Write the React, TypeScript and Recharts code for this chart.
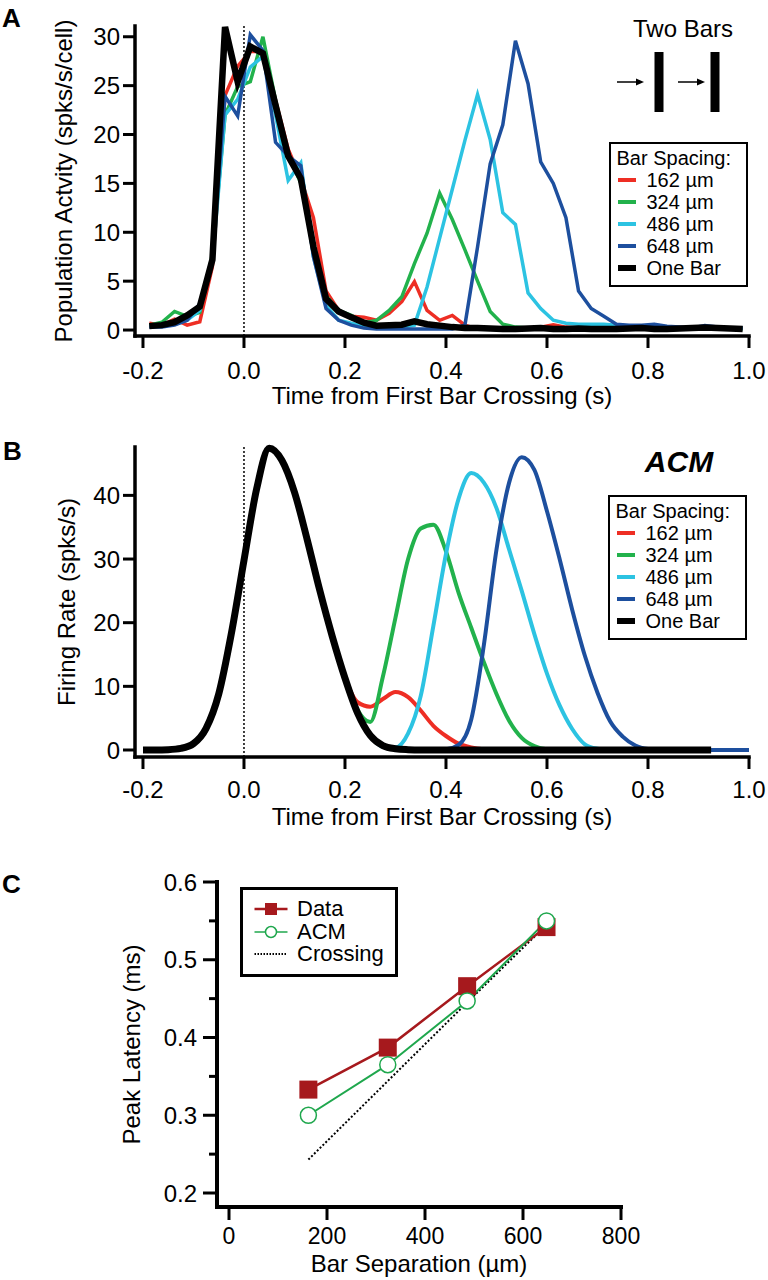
import { LineChart, Line, XAxis, YAxis, ReferenceLine, Legend } from "recharts";

const FONT = '"Liberation Sans", Arial, Helvetica, sans-serif';
const RED = "#ee2e24";
const GREEN = "#22b24c";
const CYAN = "#2cc3e2";
const BLUE = "#1d4f9e";
const BLACK = "#000";
const DARK_RED = "#a6191d";
const ACM_GREEN = "#1fa74d";

// Panel A: measured population activity, 25 ms bins
const aTime = [
  -0.1875, -0.1625, -0.1375, -0.1125, -0.0875, -0.0625, -0.0375, -0.0125, 0.0125, 0.0375, 0.0625, 0.0875,
  0.1125, 0.1375, 0.1625, 0.1875, 0.2125, 0.2375, 0.2625, 0.2875, 0.3125, 0.3375, 0.3625, 0.3875,
  0.4125, 0.4375, 0.4625, 0.4875, 0.5125, 0.5375, 0.5625, 0.5875, 0.6125, 0.6375, 0.6625, 0.6875,
  0.7125, 0.7375, 0.7625, 0.7875, 0.8125, 0.8375, 0.8625, 0.8875, 0.9125, 0.9375, 0.9625, 0.9875,
];
const a162 = [
  0.7, 0.5, 1.1, 0.5, 0.85, 6.5, 24, 27, 28.5, 28.5, 23.5, 18.5,
  15.5, 11.5, 4, 2.0, 1.4, 1.3, 1.0, 1.7, 2.9, 4.95, 2.0, 1.0,
  1.5, 0.5, 0.1, 0.2, 0.15, 0.1, 0.2, 0.3, 0.55, 0.3, 0.2, 0.25,
  0.2, 0.15, 0.2, 0.2, 0.3, 0.2, 0.2, 0.15, 0.2, 0.25, 0.2, 0.2,
];
const a324 = [
  0.5, 0.8, 1.9, 1.4, 1.8, 7.8, 22, 24.9, 25.4, 30.0, 23.5, 18,
  15, 9, 3.5, 2.0, 1.5, 0.7, 1.0, 2.0, 3.4, 6.8, 9.9, 14.0,
  11.3, 8.2, 5.0, 1.9, 0.6, 0.3, 0.2, 0.2, 0.15, 0.1, 0.1, 0.15,
  0.1, 0.1, 0.15, 0.2, 0.15, 0.1, 0.1, 0.15, 0.2, 0.15, 0.1, 0.1,
];
const a486 = [
  0.4, 0.4, 0.6, 1.0, 2.0, 7.0, 22, 23.6, 26.9, 28, 22, 15.3,
  17.1, 7.5, 2.5, 1.0, 0.7, 0.4, 0.3, 0.3, 0.3, 0.5, 4.4, 9.4,
  14.4, 19.4, 24.1, 19.5, 12.0, 10.8, 3.8, 2.2, 1.0, 0.7, 0.6, 0.6,
  0.6, 0.5, 0.4, 0.3, 0.3, 0.3, 0.2, 0.2, 0.2, 0.2, 0.2, 0.2,
];
const a648 = [
  0.3, 0.3, 0.5, 1.0, 2.7, 7.5, 23.9, 21.9, 30.2, 28.6, 19.2, 17.8,
  16.8, 7.5, 2.2, 1.0, 0.5, 0.2, 0.1, 0.1, 0.1, 0.1, 0.1, 0.1,
  0.1, 0.5, 8.5, 17.0, 21.0, 29.6, 25.2, 17.2, 15.0, 11.5, 4.0, 2.2,
  1.4, 0.6, 0.5, 0.5, 0.6, 0.4, 0.3, 0.2, 0.45, 0.3, 0.2, 0.2,
];
const aOneBar = [
  0.4, 0.5, 0.8, 1.5, 2.4, 7.2, 31.0, 25.4, 29.0, 28.3, 23.0, 17.8,
  15.5, 8.5, 3.2, 1.9, 1.3, 0.75, 0.45, 0.5, 0.55, 0.9, 0.6, 0.45,
  0.3, 0.2, 0.2, 0.15, 0.1, 0.1, 0.15, 0.2, 0.1, 0.1, 0.15, 0.1,
  0.1, 0.1, 0.15, 0.2, 0.1, 0.1, 0.15, 0.2, 0.25, 0.2, 0.15, 0.1,
];

// Panel B: ACM model firing rate
const bTime = [
  -0.2, -0.175, -0.15, -0.125, -0.1, -0.075, -0.05, -0.025, 0, 0.025, 0.05, 0.075, 0.1,
  0.125, 0.15, 0.175, 0.2, 0.225, 0.25, 0.275, 0.3, 0.325, 0.35, 0.375, 0.4, 0.425,
  0.45, 0.475, 0.5, 0.525, 0.55, 0.575, 0.6, 0.625, 0.65, 0.675, 0.7, 0.725, 0.75,
  0.775, 0.8, 0.825, 0.85, 0.875, 0.9, 0.925, 0.95, 0.975, 1.0,
];
const b162 = [
  0, 0, 0.05, 0.25, 1.0, 3.4, 8.8, 18.3, 29.8, 41, 47.4, 45.5, 40.5,
  33.1, 25.1, 17.8, 11.3, 7.5, 6.8, 8.0, 9.1, 8.3, 6.2, 3.8, 2.2, 1.0,
  0.4, 0.1, 0, 0, 0, 0, 0, 0, 0, 0, 0, 0, 0,
  0, 0, 0, 0, 0, 0, 0, 0, 0, 0,
];
const b324 = [
  0, 0, 0.05, 0.25, 1.0, 3.4, 8.8, 18.3, 29.8, 41, 47.4, 45.5, 40.5,
  33.1, 25.1, 17.8, 11.3, 6.3, 4.4, 11.5, 20.8, 30, 34.8, 35.4, 31.2, 24.7,
  19.2, 13.8, 8.8, 4.6, 1.9, 0.6, 0.1, 0, 0, 0, 0, 0, 0,
  0, 0, 0, 0, 0, 0, 0, 0, 0, 0,
];
const b486 = [
  0, 0, 0.05, 0.25, 1.0, 3.4, 8.8, 18.3, 29.8, 41, 47.4, 45.5, 40.5,
  33.1, 25.1, 17.8, 11.3, 5.8, 2.3, 0.5, 0.4, 2.6, 8.5, 19.5, 30.8, 39.5,
  43.5, 42, 38, 31.5, 25, 18.2, 12, 7, 3.3, 0.9, 0.2, 0, 0,
  0, 0, 0, 0, 0, 0, 0, 0, 0, 0,
];
const b648 = [
  0, 0, 0.05, 0.25, 1.0, 3.4, 8.8, 18.3, 29.8, 41, 47.4, 45.5, 40.5,
  33.1, 25.1, 17.8, 11.3, 5.8, 2.3, 0.7, 0.2, 0.05, 0, 0, 0.1, 0.8,
  4.8, 16.5, 31.5, 42, 46, 44, 37.5, 30, 22, 14.8, 9, 4.5, 2.1,
  0.7, 0.15, 0, 0, 0, 0, 0, 0, 0, 0,
];
// one-bar model trace stops at 0.925 s
const bOneBar = [
  0, 0, 0.05, 0.25, 1.0, 3.4, 8.8, 18.3, 29.8, 41, 47.4, 45.5, 40.5,
  33.1, 25.1, 17.8, 11.3, 5.8, 2.3, 0.7, 0.2, 0.05, 0, 0, 0, 0,
  0, 0, 0, 0, 0, 0, 0, 0, 0, 0, 0, 0, 0,
  0, 0, 0, 0, 0, 0, 0,
];

// Panel C: peak latency vs bar separation
const cSeparation = [162, 324, 486, 648];
const cData = [0.333, 0.387, 0.466, 0.542];
const cAcm = [0.3, 0.365, 0.447, 0.55];
const cCrossing = [0.243, 0.344, 0.445, 0.545];

const spacingNames = ["162 µm", "324 µm", "486 µm", "648 µm", "One Bar"];
const spacingColors = [RED, GREEN, CYAN, BLUE, BLACK];
const timeTicks = [-0.2, 0, 0.2, 0.4, 0.6, 0.8, 1.0];
const aYTicks = [0, 5, 10, 15, 20, 25, 30];
const bYTicks = [0, 10, 20, 30, 40];
const cXTicks = [0, 200, 400, 600, 800];
const cYTicks = [0.2, 0.25, 0.3, 0.35, 0.4, 0.45, 0.5, 0.55, 0.6];

const panelAData = aTime.map((t, i) => ({
  t, s162: a162[i], s324: a324[i], s486: a486[i], s648: a648[i], one: aOneBar[i],
}));
const panelBData = bTime.map((t, i) => ({
  t, s162: b162[i], s324: b324[i], s486: b486[i], s648: b648[i],
  one: i < bOneBar.length ? bOneBar[i] : null,
}));
const panelCData = cSeparation.map((sep, i) => ({
  sep, data: cData[i], acm: cAcm[i], crossing: cCrossing[i],
}));

const axisLine = { stroke: BLACK, strokeWidth: 3.5, strokeLinecap: "square" as const };
const tickLine = { stroke: BLACK, strokeWidth: 3 };
const tickText = { fill: BLACK, fontSize: 24 };
const seriesKeys = ["s162", "s324", "s486", "s648", "one"];

function SpacingLegend() {
  return (
    <div
      style={{
        width: 139, height: 145, boxSizing: "border-box", border: "2.5px solid #000",
        background: "#fff", padding: "2.5px 0 0 5.5px", fontSize: 20, lineHeight: "22px",
        color: "#000", whiteSpace: "nowrap",
      }}
    >
      <div>Bar Spacing:</div>
      {spacingNames.map((name, i) => (
        <div key={name} style={{ display: "flex", alignItems: "center", height: 22 }}>
          <span
            style={{
              display: "inline-block", width: 18, height: i === 4 ? 6 : 4,
              background: spacingColors[i], marginLeft: 1, marginRight: 11,
            }}
          />
          {name}
        </div>
      ))}
    </div>
  );
}

function LatencyLegend() {
  const rows = [
    { name: "Data", kind: "data" },
    { name: "ACM", kind: "acm" },
    { name: "Crossing", kind: "crossing" },
  ];
  return (
    <div
      style={{
        width: 158, height: 90, boxSizing: "border-box", border: "3.5px solid #000",
        background: "#fff", paddingTop: 8, fontSize: 22, color: "#000", whiteSpace: "nowrap",
      }}
    >
      {rows.map((r) => (
        <div key={r.kind} style={{ display: "flex", alignItems: "center", height: 22.5 }}>
          <svg width={54} height={22}>
            {r.kind === "data" && (
              <>
                <line x1={11.5} y1={11} x2={44.5} y2={11} stroke={DARK_RED} strokeWidth={2.5} />
                <rect x={22} y={5} width={12} height={12} fill={DARK_RED} />
              </>
            )}
            {r.kind === "acm" && (
              <>
                <line x1={11.5} y1={11} x2={44.5} y2={11} stroke={ACM_GREEN} strokeWidth={1.5} />
                <circle cx={28} cy={11} r={5.5} fill="#fff" stroke={ACM_GREEN} strokeWidth={1.5} />
              </>
            )}
            {r.kind === "crossing" && (
              <line x1={11.5} y1={11} x2={44.5} y2={11} stroke={BLACK} strokeWidth={2} strokeDasharray="1.5 1.5" />
            )}
          </svg>
          {r.name}
        </div>
      ))}
    </div>
  );
}

function LatencyTick({ x, y, payload }: any) {
  const v = payload.value as number;
  const major = Math.abs(v * 10 - Math.round(v * 10)) < 1e-6;
  const axisX = x + 20;
  return (
    <g>
      <line x1={axisX - (major ? 14 : 8)} y1={y} x2={axisX} y2={y} stroke={BLACK} strokeWidth={3} />
      {major && (
        <text x={x} y={y} dy="0.355em" textAnchor="end" fill={BLACK} fontSize={24}>
          {v.toFixed(1)}
        </text>
      )}
    </g>
  );
}

function SquareDot(props: any) {
  const { cx, cy, index } = props;
  return <rect key={`sq-${index}`} x={cx - 9} y={cy - 9} width={18} height={18} fill={DARK_RED} />;
}

function PanelA() {
  return (
    <LineChart width={768} height={410} data={panelAData} margin={{ top: 26, right: 19, left: 0, bottom: 0 }}>
      <XAxis
        dataKey="t" type="number" domain={[-0.2158, 1.0]} ticks={timeTicks} interval={0}
        tickFormatter={(v: number) => v.toFixed(1)} height={74} axisLine={axisLine}
        tickLine={tickLine} tickSize={12} tickMargin={14} tick={tickText}
        label={{ value: "Time from First Bar Crossing (s)", position: "insideBottom", offset: 6.5, fill: BLACK, fontSize: 24 }}
      />
      <YAxis
        domain={[-0.61, 31.1]} ticks={aYTicks} interval={0} width={135} axisLine={axisLine}
        tickLine={tickLine} tickSize={12} tickMargin={3} tick={tickText}
        label={{ value: "Population Actvity (spks/s/cell)", angle: -90, position: "insideLeft", offset: 63, style: { textAnchor: "middle" }, fill: BLACK, fontSize: 24 }}
      />
      <ReferenceLine x={0} stroke={BLACK} strokeWidth={1.5} strokeDasharray="2 2" />
      {seriesKeys.map((k, i) => (
        <Line
          key={k} dataKey={k} name={spacingNames[i]} type="linear" stroke={spacingColors[i]}
          strokeWidth={i === 4 ? 6.5 : 3.5} dot={false} activeDot={false} isAnimationActive={false}
        />
      ))}
      <Legend
        layout="vertical" align="center" verticalAlign="middle" content={() => <SpacingLegend />}
        wrapperStyle={{ left: 609, top: 142, width: 139, height: 145 }}
      />
    </LineChart>
  );
}

function PanelB() {
  return (
    <LineChart width={768} height={410} data={panelBData} margin={{ top: 27, right: 19, left: 0, bottom: 0 }}>
      <XAxis
        dataKey="t" type="number" domain={[-0.2158, 1.0]} ticks={timeTicks} interval={0}
        tickFormatter={(v: number) => v.toFixed(1)} height={73} axisLine={axisLine}
        tickLine={tickLine} tickSize={12} tickMargin={12} tick={tickText}
        label={{ value: "Time from First Bar Crossing (s)", position: "insideBottom", offset: 5, fill: BLACK, fontSize: 24 }}
      />
      <YAxis
        domain={[-1.1, 47.6]} ticks={bYTicks} interval={0} width={135} axisLine={axisLine}
        tickLine={tickLine} tickSize={12} tickMargin={3} tick={tickText}
        label={{ value: "Firing Rate (spks/s)", angle: -90, position: "insideLeft", offset: 66, style: { textAnchor: "middle" }, fill: BLACK, fontSize: 24 }}
      />
      <ReferenceLine x={0} stroke={BLACK} strokeWidth={1.5} strokeDasharray="2 2" />
      {seriesKeys.map((k, i) => (
        <Line
          key={k} dataKey={k} name={spacingNames[i]} type="monotone" stroke={spacingColors[i]}
          strokeWidth={i === 4 ? 7 : 4} dot={false} activeDot={false} isAnimationActive={false}
        />
      ))}
      <Legend
        layout="vertical" align="center" verticalAlign="middle" content={() => <SpacingLegend />}
        wrapperStyle={{ left: 608, top: 75, width: 139, height: 145 }}
      />
    </LineChart>
  );
}

function PanelC() {
  return (
    <LineChart width={768} height={440} data={panelCData} margin={{ top: 42, right: 147, left: 0, bottom: 0 }}>
      <XAxis
        dataKey="sep" type="number" domain={[-24.5, 800]} ticks={cXTicks} interval={0} height={73}
        axisLine={{ ...axisLine, strokeWidth: 4 }} tickLine={tickLine} tickSize={13} tickMargin={8}
        tick={{ fill: BLACK, fontSize: 23 }}
        label={{ value: "Bar Separation (µm)", position: "insideBottom", offset: 8, fill: BLACK, fontSize: 24 }}
      />
      <YAxis
        domain={[0.182, 0.6]} ticks={cYTicks} interval={0} width={217}
        axisLine={{ ...axisLine, strokeWidth: 4 }} tickLine={false} tickSize={14} tickMargin={6}
        tick={<LatencyTick />}
        label={{ value: "Peak Latency (ms)", angle: -90, position: "insideLeft", offset: 131, style: { textAnchor: "middle" }, fill: BLACK, fontSize: 24 }}
      />
      <Line
        dataKey="crossing" name="Crossing" type="linear" stroke={BLACK} strokeWidth={2}
        strokeDasharray="2 2" dot={false} activeDot={false} isAnimationActive={false}
      />
      <Line
        dataKey="data" name="Data" type="linear" stroke={DARK_RED} strokeWidth={2.5}
        dot={SquareDot} activeDot={false} isAnimationActive={false}
      />
      <Line
        dataKey="acm" name="ACM" type="linear" stroke={ACM_GREEN} strokeWidth={2}
        dot={{ r: 8, fill: "#fff", stroke: ACM_GREEN, strokeWidth: 1.5 }} activeDot={false}
        isAnimationActive={false}
      />
      <Legend
        layout="vertical" align="center" verticalAlign="middle" content={() => <LatencyLegend />}
        wrapperStyle={{ left: 240, top: 47, width: 158, height: 90 }}
      />
    </LineChart>
  );
}

function Overlay() {
  return (
    <svg width={768} height={1280} style={{ position: "absolute", left: 0, top: 0, pointerEvents: "none" }}>
      <g fontWeight="bold" fontSize={26} fill={BLACK}>
        <text x={2} y={27}>A</text>
        <text x={3} y={460}>B</text>
        <text x={2} y={893}>C</text>
      </g>
      <text x={683} y={37} fontSize={24} textAnchor="middle" fill={BLACK}>Two Bars</text>
      <line x1={617} y1={82} x2={637} y2={82} stroke={BLACK} strokeWidth={1.5} />
      <polygon points="644,82 636,78.5 636,85.5" fill={BLACK} />
      <rect x={654.5} y={52} width={9} height={60} fill={BLACK} />
      <line x1={678} y1={82} x2={698} y2={82} stroke={BLACK} strokeWidth={1.5} />
      <polygon points="705,82 697,78.5 697,85.5" fill={BLACK} />
      <rect x={710.5} y={52} width={9} height={60} fill={BLACK} />
      <text x={679} y={472} fontSize={30} fontWeight="bold" fontStyle="italic" textAnchor="middle" fill={BLACK}>
        ACM
      </text>
    </svg>
  );
}

export default function App() {
  return (
    <div
      style={{
        position: "absolute", left: 0, top: 0, width: 768, height: 1280,
        background: "#fff", fontFamily: FONT, color: BLACK, overflow: "hidden",
      }}
    >
      <div style={{ position: "absolute", left: 0, top: 0 }}>
        <PanelA />
      </div>
      <div style={{ position: "absolute", left: 0, top: 420 }}>
        <PanelB />
      </div>
      <div style={{ position: "absolute", left: 0, top: 840 }}>
        <PanelC />
      </div>
      <Overlay />
    </div>
  );
}
